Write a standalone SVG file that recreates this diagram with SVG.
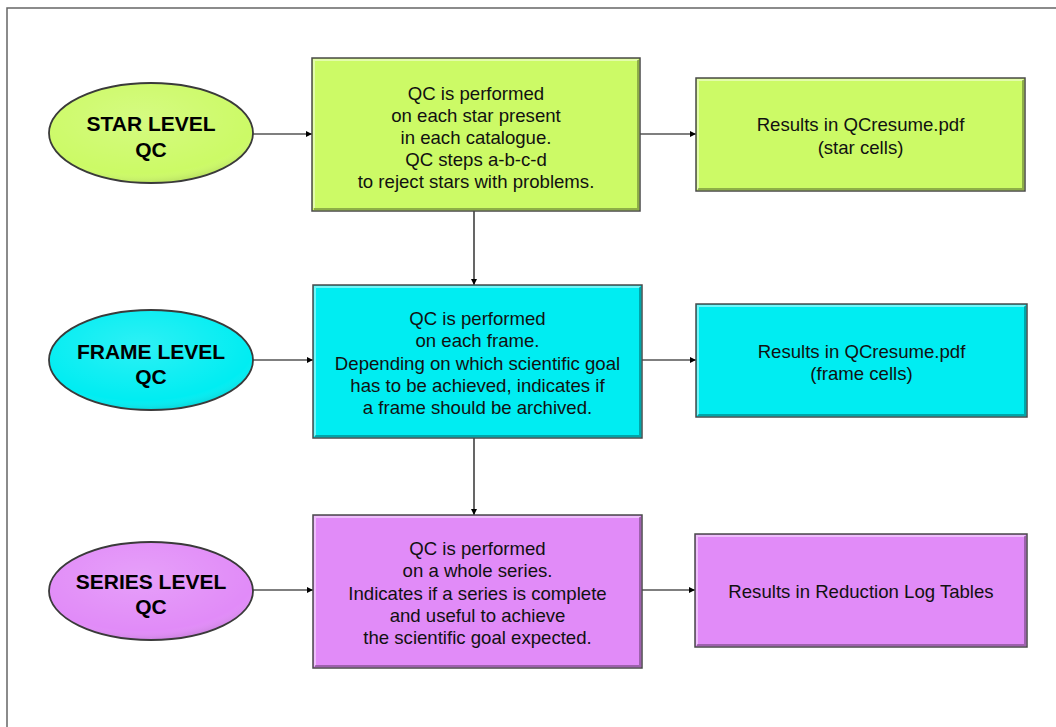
<svg xmlns="http://www.w3.org/2000/svg" width="1056" height="727" viewBox="0 0 1056 727">
  <defs>
    <style>
      .label { font-family: "Liberation Sans", Arial, sans-serif; font-size: 18.6px; fill: #111; text-anchor: middle; }
      .title { font-family: "Liberation Sans", Arial, sans-serif; font-size: 21px; font-weight: bold; fill: #000; text-anchor: middle; }
      .box { stroke: #4a4a4a; stroke-width: 1.5; }
      .oval { stroke: #3a3a3a; stroke-width: 1.8; }
      .hi { fill: none; stroke: #ffffff; stroke-opacity: 0.45; stroke-width: 2; }
      .lo { fill: none; stroke: #000000; stroke-opacity: 0.3; stroke-width: 2; }
      .edge { fill: none; stroke: #000; stroke-width: 1.2; marker-end: url(#arrow); }
      .green { fill: #ccfa66; }
      .cyan { fill: #00edf2; }
      .purple { fill: #e18bf8; }
    </style>
    <marker id="arrow" viewBox="0 0 8 8" refX="8" refY="4" markerWidth="6" markerHeight="6" markerUnits="userSpaceOnUse" orient="auto">
      <path d="M0,0 L8,4 L0,8 z" fill="#000"/>
    </marker>
    <radialGradient id="shine" cx="0.45" cy="0.35" r="0.7">
      <stop offset="0" stop-color="#fff" stop-opacity="0.18"/>
      <stop offset="0.8" stop-color="#fff" stop-opacity="0"/>
      <stop offset="1" stop-color="#000" stop-opacity="0.18"/>
    </radialGradient>
  </defs>

  <!-- page frame -->
  <rect x="7" y="8" width="1060" height="730" fill="#fff" stroke="#666" stroke-width="1.5"/>

  <!-- connectors -->
  <g id="connectors">
    <line class="edge" x1="253" y1="134" x2="312" y2="134"/>
    <line class="edge" x1="640" y1="134" x2="696" y2="134"/>
    <line class="edge" x1="474" y1="211" x2="474" y2="285"/>
    <line class="edge" x1="253" y1="360" x2="313" y2="360"/>
    <line class="edge" x1="642" y1="360" x2="696" y2="360"/>
    <line class="edge" x1="474" y1="438" x2="474" y2="515"/>
    <line class="edge" x1="253" y1="590" x2="313" y2="590"/>
    <line class="edge" x1="642" y1="590" x2="695" y2="590"/>
  </g>

  <!-- star level -->
  <g id="star-level">
    <ellipse class="oval green" cx="151" cy="133" rx="102" ry="50"/>
    <ellipse cx="151" cy="133" rx="101" ry="49" fill="url(#shine)"/>
    <text class="title" x="151" y="131">STAR LEVEL</text>
    <text class="title" x="151" y="157">QC</text>
  </g>
  <g id="star-qc">
    <rect class="box green" x="312" y="58" width="328" height="153"/>
    <polyline class="hi" points="314,208 314,60 638,60"/>
    <polyline class="lo" points="314,209 638,209 638,60"/>
    <text class="label" x="476" y="99.5">QC is performed</text>
    <text class="label" x="476" y="121.5">on each star present</text>
    <text class="label" x="476" y="143.5">in each catalogue.</text>
    <text class="label" x="476" y="166">QC steps a-b-c-d</text>
    <text class="label" x="476" y="188">to reject stars with problems.</text>
  </g>
  <g id="star-results">
    <rect class="box green" x="696" y="78" width="329" height="113"/>
    <polyline class="hi" points="698,189 698,80 1023,80"/>
    <polyline class="lo" points="698,189 1023,189 1023,80"/>
    <text class="label" x="860.5" y="131">Results in QCresume.pdf</text>
    <text class="label" x="860.5" y="154">(star cells)</text>
  </g>

  <!-- frame level -->
  <g id="frame-level">
    <ellipse class="oval cyan" cx="151" cy="360" rx="102" ry="50"/>
    <ellipse cx="151" cy="360" rx="101" ry="49" fill="url(#shine)"/>
    <text class="title" x="151" y="359">FRAME LEVEL</text>
    <text class="title" x="151" y="384">QC</text>
  </g>
  <g id="frame-qc">
    <rect class="box cyan" x="313" y="285" width="329" height="153"/>
    <polyline class="hi" points="315,436 315,287 640,287"/>
    <polyline class="lo" points="315,436 640,436 640,287"/>
    <text class="label" x="477.5" y="325">QC is performed</text>
    <text class="label" x="477.5" y="347">on each frame.</text>
    <text class="label" x="477.5" y="369.5">Depending on which scientific goal</text>
    <text class="label" x="477.5" y="392">has to be achieved, indicates if</text>
    <text class="label" x="477.5" y="414">a frame should be archived.</text>
  </g>
  <g id="frame-results">
    <rect class="box cyan" x="696" y="304" width="331" height="113"/>
    <polyline class="hi" points="698,415 698,306 1025,306"/>
    <polyline class="lo" points="698,415 1025,415 1025,306"/>
    <text class="label" x="861.5" y="358">Results in QCresume.pdf</text>
    <text class="label" x="861.5" y="380">(frame cells)</text>
  </g>

  <!-- series level -->
  <g id="series-level">
    <ellipse class="oval purple" cx="151" cy="591" rx="102" ry="49"/>
    <ellipse cx="151" cy="591" rx="101" ry="48" fill="url(#shine)"/>
    <text class="title" x="151" y="589">SERIES LEVEL</text>
    <text class="title" x="151" y="614">QC</text>
  </g>
  <g id="series-qc">
    <rect class="box purple" x="313" y="515" width="329" height="153"/>
    <polyline class="hi" points="315,666 315,517 640,517"/>
    <polyline class="lo" points="315,666 640,666 640,517"/>
    <text class="label" x="477.5" y="555">QC is performed</text>
    <text class="label" x="477.5" y="577">on a whole series.</text>
    <text class="label" x="477.5" y="599.5">Indicates if a series is complete</text>
    <text class="label" x="477.5" y="622">and useful to achieve</text>
    <text class="label" x="477.5" y="644">the scientific goal expected.</text>
  </g>
  <g id="series-results">
    <rect class="box purple" x="695" y="534" width="332" height="113"/>
    <polyline class="hi" points="697,645 697,536 1025,536"/>
    <polyline class="lo" points="697,645 1025,645 1025,536"/>
    <text class="label" x="861" y="598">Results in Reduction Log Tables</text>
  </g>
</svg>
